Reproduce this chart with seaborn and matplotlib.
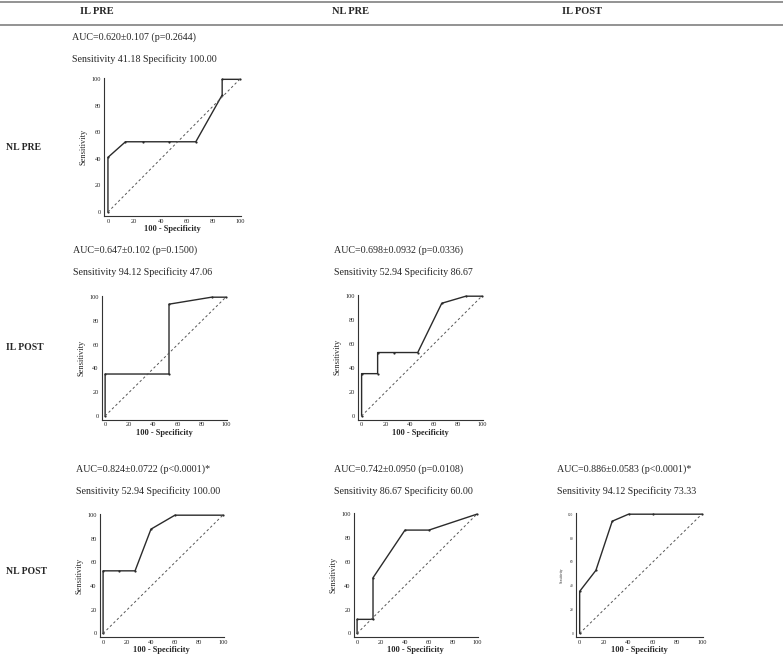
import numpy as np
import pandas as pd
import seaborn as sns
from matplotlib import pyplot as plt
from matplotlib.lines import Line2D
from matplotlib.ticker import MultipleLocator

# column / row headers of the comparison table
col_labels = ['IL PRE', 'NL PRE', 'IL POST']
row_labels = ['NL PRE', 'IL POST', 'NL POST']

# ROC curves: x = 100 - Specificity, y = Sensitivity
fpr_nlpre_ilpre = [0, 0, 13.3, 26.7, 46.7, 66.7, 86.7, 86.7, 100]
tpr_nlpre_ilpre = [0, 41.18, 52.94, 52.94, 52.94, 52.94, 88.2, 100, 100]

fpr_ilpost_ilpre = [0, 0, 52.94, 52.94, 88.2, 100]
tpr_ilpost_ilpre = [0, 35.3, 35.3, 94.12, 100, 100]

fpr_ilpost_nlpre = [0, 0, 13.33, 13.33, 26.7, 46.7, 66.7, 86.7, 100]
tpr_ilpost_nlpre = [0, 35.3, 35.3, 52.94, 52.94, 52.94, 94.1, 100, 100]

fpr_nlpost_ilpre = [0, 0, 13.3, 26.7, 40, 60, 100]
tpr_nlpost_ilpre = [0, 52.94, 52.94, 52.94, 88.2, 100, 100]

fpr_nlpost_nlpre = [0, 0, 13.3, 13.3, 40, 60, 100]
tpr_nlpost_nlpre = [0, 11.8, 11.8, 46.7, 86.67, 86.67, 100]

fpr_nlpost_ilpost = [0, 0, 13.3, 26.67, 40, 60, 100]
tpr_nlpost_ilpost = [0, 35.3, 52.9, 94.12, 100, 100, 100]

diag = [0, 100]

auc_text = ['AUC=0.620\u00b10.107 (p=0.2644)',
            'AUC=0.647\u00b10.102 (p=0.1500)',
            'AUC=0.698\u00b10.0932 (p=0.0336)',
            'AUC=0.824\u00b10.0722 (p<0.0001)*',
            'AUC=0.742\u00b10.0950 (p=0.0108)',
            'AUC=0.886\u00b10.0583 (p<0.0001)*']
sens_text = ['Sensitivity 41.18 Specificity 100.00',
             'Sensitivity 94.12 Specificity 47.06',
             'Sensitivity 52.94 Specificity 86.67',
             'Sensitivity 52.94 Specificity 100.00',
             'Sensitivity 86.67 Specificity 60.00',
             'Sensitivity 94.12 Specificity 73.33']

curves = [(fpr_nlpre_ilpre, tpr_nlpre_ilpre),
          (fpr_ilpost_ilpre, tpr_ilpost_ilpre),
          (fpr_ilpost_nlpre, tpr_ilpost_nlpre),
          (fpr_nlpost_ilpre, tpr_nlpost_ilpre),
          (fpr_nlpost_nlpre, tpr_nlpost_nlpre),
          (fpr_nlpost_ilpost, tpr_nlpost_ilpost)]

sns.set_style('white')
plt.rcParams['font.family'] = ['Liberation Serif', 'DejaVu Serif']

W, H = 783, 662
fig = plt.figure(figsize=(W / 100, H / 100), dpi=100)


def px(x, y):
    # pixel position -> figure fraction
    return x / W, 1 - y / H


# table lines and headers
for yy in [2, 25]:
    fig.add_artist(Line2D([0, 1], [1 - yy / H] * 2, color='#8a8a8a', lw=1.3))
for lab, xx in zip(col_labels, [80, 332, 562]):
    fig.text(*px(xx, 12), lab, fontsize=7.5, fontweight='bold', va='center')
for lab, yy in zip(row_labels, [148, 348, 572]):
    fig.text(*px(6, yy), lab, fontsize=7, fontweight='bold', va='center')

# panel boxes in pixels: left, top, right, bottom ; text anchor x, y
panels = [
    (104, 78, 241, 216, 72, 37),
    (101.5, 296, 227, 419.5, 73, 250),
    (358, 295, 483, 419.5, 334, 250),
    (99.5, 514, 224, 637, 76, 469),
    (353.5, 513, 478, 637, 334, 469),
    (576, 513, 703, 637, 557, 469),
]

for i, (l, t, r, b, tx, ty) in enumerate(panels):
    ax = fig.add_axes([l / W, 1 - b / H, (r - l) / W, (b - t) / H])
    fpr, tpr = curves[i]
    df = pd.DataFrame({'fpr': fpr, 'tpr': tpr})
    sns.lineplot(data=df, x='fpr', y='tpr', sort=False, estimator=None, ax=ax,
                 color='#2b2b2b', lw=1.0, marker='o', markersize=1.6,
                 markeredgewidth=0)
    sns.lineplot(x=diag, y=diag, ax=ax, color='#555555', lw=0.7,
                 linestyle=(0, (2.5, 2.5)))
    ax.set_xlim(-3, 101)
    ax.set_ylim(-3, 101)
    sns.despine(ax=ax)
    for s in ['left', 'bottom']:
        ax.spines[s].set_linewidth(0.8)
        ax.spines[s].set_color('#333333')
    ax.xaxis.set_major_locator(MultipleLocator(20))
    ax.yaxis.set_major_locator(MultipleLocator(20))
    ax.xaxis.set_minor_locator(MultipleLocator(5))
    ax.yaxis.set_minor_locator(MultipleLocator(5))
    small = 2.6 if i == 5 else 4.6
    ax.tick_params(axis='x', which='major', direction='in', length=2.5,
                   width=0.6, labelsize=4.6, pad=2)
    ax.tick_params(axis='y', which='major', direction='in', length=2.5,
                   width=0.6, labelsize=small, pad=2)
    ax.tick_params(which='minor', direction='in', length=1.3, width=0.5)
    ax.set_xlabel('100 - Specificity', fontsize=6, fontweight='bold', labelpad=1)
    ax.set_ylabel('Sensitivity', fontsize=2.6 if i == 5 else 6, labelpad=3)
    fig.text(*px(tx, ty), auc_text[i], fontsize=7.2, va='center')
    fig.text(*px(tx, ty + 22), sens_text[i], fontsize=7.2, va='center')

fig.savefig('out.png', dpi=100)
